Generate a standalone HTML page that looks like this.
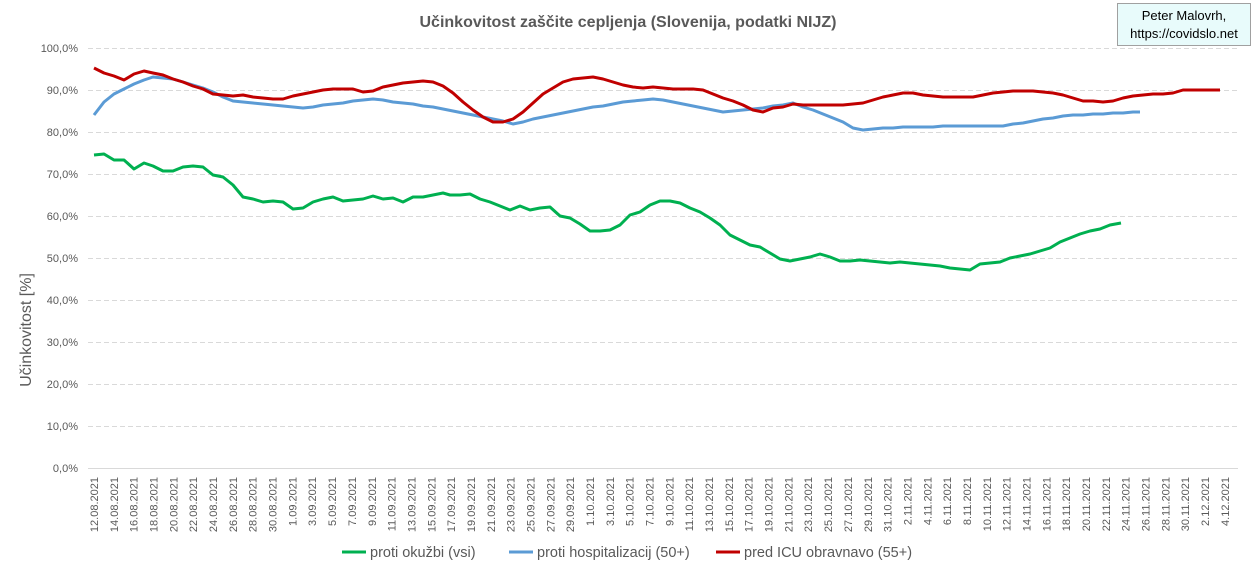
<!DOCTYPE html>
<html><head><meta charset="utf-8"><style>
body{margin:0;background:#fff;}
svg{display:block;font-family:"Liberation Sans",sans-serif;}
</style></head><body>
<svg width="1259" height="574" xmlns="http://www.w3.org/2000/svg">
<rect width="1259" height="574" fill="#fff"/>
<text x="628" y="27" text-anchor="middle" font-size="16" font-weight="bold" fill="#595959">Učinkovitost zaščite cepljenja (Slovenija, podatki NIJZ)</text>
<rect x="1117.5" y="3.5" width="133" height="42" fill="#e8fbfb" stroke="#a0a0a0"/>
<text x="1184" y="20" text-anchor="middle" font-size="13" fill="#000">Peter Malovrh,</text>
<text x="1184" y="38" text-anchor="middle" font-size="13" fill="#000">https://covidslo.net</text>
<g stroke="#d9d9d9" stroke-dasharray="5,3" stroke-width="1">
<line x1="88" x2="1238" y1="48.5" y2="48.5"/><line x1="88" x2="1238" y1="90.5" y2="90.5"/>
<line x1="88" x2="1238" y1="132.5" y2="132.5"/><line x1="88" x2="1238" y1="174.5" y2="174.5"/>
<line x1="88" x2="1238" y1="216.5" y2="216.5"/><line x1="88" x2="1238" y1="258.5" y2="258.5"/>
<line x1="88" x2="1238" y1="300.5" y2="300.5"/><line x1="88" x2="1238" y1="342.5" y2="342.5"/>
<line x1="88" x2="1238" y1="384.5" y2="384.5"/><line x1="88" x2="1238" y1="426.5" y2="426.5"/>
</g>
<line x1="88" x2="1238" y1="468.5" y2="468.5" stroke="#d9d9d9"/>
<g font-size="11" fill="#595959" text-anchor="end">
<text x="78" y="52">100,0%</text><text x="78" y="94">90,0%</text><text x="78" y="136">80,0%</text>
<text x="78" y="178">70,0%</text><text x="78" y="220">60,0%</text><text x="78" y="262">50,0%</text>
<text x="78" y="304">40,0%</text><text x="78" y="346">30,0%</text><text x="78" y="388">20,0%</text>
<text x="78" y="430">10,0%</text><text x="78" y="472">0,0%</text>
</g>
<text transform="translate(31,330) rotate(-90)" text-anchor="middle" font-size="16" fill="#595959">Učinkovitost [%]</text>
<g id="xl" font-size="11" fill="#595959" text-anchor="end"></g>
<polyline fill="none" stroke="#00b050" stroke-width="3" stroke-linejoin="round" points="94,155 104,154 114,160 124,160 134,169 144,163 153,166 163,171 173,171 183,167 193,166 203,167 213,175 223,177 233,185 243,197 253,199 263,202 273,201 283,202 293,209 303,208 313,202 323,199 333,197 343,201 353,200 363,199 373,196 383,199 393,198 403,202 413,197 423,197 433,195 443,193 450,195 460,195 470,194 480,199 490,202 500,206 510,210 520,206 530,210 540,208 550,207 560,216 570,218 580,224 590,231 600,231 610,230 620,225 630,215 640,212 650,205 660,201 670,201 680,203 690,208 700,212 710,218 720,225 730,235 740,240 750,245 760,247 770,253 780,259 790,261 800,259 810,257 820,254 830,257 840,261 850,261 860,260 870,261 880,262 890,263 900,262 910,263 920,264 930,265 940,266 950,268 960,269 970,270 980,264 990,263 1000,262 1010,258 1020,256 1030,254 1040,251 1050,248 1060,242 1070,238 1080,234 1090,231 1100,229 1110,225 1121,223"/>
<polyline fill="none" stroke="#5b9bd5" stroke-width="3" stroke-linejoin="round" points="94,115 104,102 114,94 124,89 134,84 144,80 153,77 163,78 173,79 183,82 193,85 203,88 213,92 223,97 233,101 243,102 253,103 263,104 273,105 283,106 293,107 303,108 313,107 323,105 333,104 343,103 353,101 363,100 373,99 383,100 393,102 403,103 413,104 423,106 433,107 443,109 453,111 463,113 473,115 483,117 493,119 503,121 513,124 523,122 533,119 543,117 553,115 563,113 573,111 583,109 593,107 603,106 613,104 623,102 633,101 643,100 653,99 663,100 673,102 683,104 693,106 703,108 713,110 723,112 733,111 743,110 753,109 763,108 773,106 783,105 793,103 803,107 813,110 823,114 833,118 843,122 853,128 863,130 873,129 883,128 893,128 903,127 913,127 923,127 933,127 943,126 953,126 963,126 973,126 983,126 993,126 1003,126 1013,124 1023,123 1033,121 1043,119 1053,118 1063,116 1073,115 1083,115 1093,114 1103,114 1113,113 1123,113 1133,112 1140,112"/>
<polyline fill="none" stroke="#c00000" stroke-width="3" stroke-linejoin="round" points="94,68 104,73 114,76 124,80 134,74 144,71 153,73 163,75 173,79 183,82 193,86 203,89 213,94 223,95 233,96 243,95 253,97 263,98 273,99 283,99 293,96 303,94 313,92 323,90 333,89 343,89 353,89 363,92 373,91 383,87 393,85 403,83 413,82 423,81 433,82 443,86 453,93 463,102 473,110 483,117 493,122 503,122 513,119 523,112 533,103 543,94 553,88 563,82 573,79 583,78 593,77 603,79 613,82 623,85 633,87 643,88 653,87 663,88 673,89 683,89 693,89 703,90 713,94 723,98 733,101 743,105 753,110 763,112 773,108 783,107 793,104 803,105 813,105 823,105 833,105 843,105 853,104 863,103 873,100 883,97 893,95 903,93 913,93 923,95 933,96 943,97 953,97 963,97 973,97 983,95 993,93 1003,92 1013,91 1023,91 1033,91 1043,92 1053,93 1063,95 1073,98 1083,101 1093,101 1103,102 1113,101 1123,98 1133,96 1143,95 1153,94 1163,94 1173,93 1183,90 1193,90 1203,90 1220,90"/>
<g font-size="14.5" fill="#595959">
<line x1="342" x2="366" y1="552" y2="552" stroke="#00b050" stroke-width="3"/><text x="370" y="557">proti okužbi (vsi)</text>
<line x1="509" x2="533" y1="552" y2="552" stroke="#5b9bd5" stroke-width="3"/><text x="537" y="557">proti hospitalizacij (50+)</text>
<line x1="716" x2="740" y1="552" y2="552" stroke="#c00000" stroke-width="3"/><text x="744" y="557">pred ICU obravnavo (55+)</text>
</g>
<script>
(function(){
var g=document.getElementById('xl');var ns="http://www.w3.org/2000/svg";
var start=new Date(2021,7,12);
for(var i=0;i<=114;i+=2){var d=new Date(start.getTime()+i*86400000);
var s=d.getDate()+"."+String(d.getMonth()+1).padStart(2,"0")+"."+d.getFullYear();
var x=94+i*9.92+4;var t=document.createElementNS(ns,"text");
t.setAttribute("transform","translate("+x.toFixed(1)+",477) rotate(-90)");t.textContent=s;g.appendChild(t);}
})();
</script>
</svg>
</body></html>
